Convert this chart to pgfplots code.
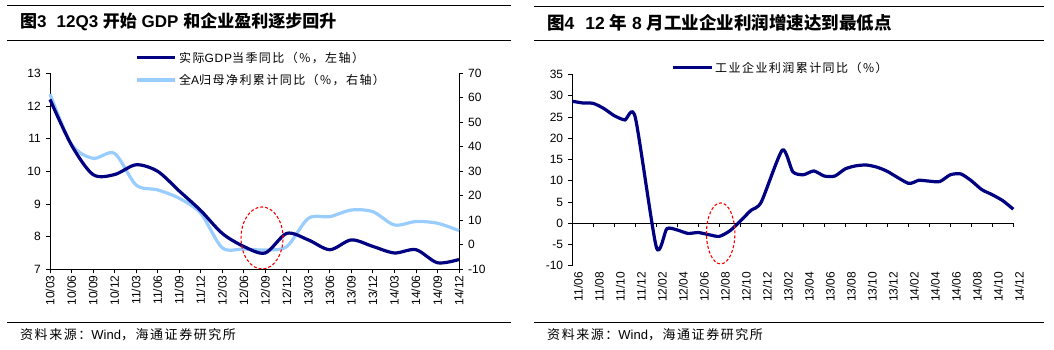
\documentclass[border=0pt]{standalone}
\usepackage{pgfplots}
\pgfplotsset{compat=1.18}
\usepackage{fontspec}
\setmainfont{Liberation Sans}
\newfontfamily\cjk{Noto Sans CJK SC}
\newfontfamily\cjkl[LetterSpace=12]{Noto Sans CJK SC}
\newfontfamily\latl[LetterSpace=6]{Liberation Sans}
\definecolor{navy}{RGB}{0,0,128}
\definecolor{lblue}{RGB}{153,204,255}
\pgfplotstableread{
x y
0 12.2
1 10.8
2 9.9
3 9.9
4 10.2
5 10.0
6 9.4
7 8.8
8 8.1
9 7.7
10 7.5
11 8.1
12 7.9
13 7.6
14 7.9
15 7.7
16 7.5
17 7.6
18 7.2
19 7.3
}\gdp
\pgfplotstableread{
x y
0 61.5
1 41
2 35.3
3 37.3
4 24.4
5 22.4
6 19
7 12.9
8 -1.2
9 -1.7
10 -2.1
11 -0.7
12 10.8
13 11.5
14 14.2
15 13.5
16 8.1
17 9.5
18 8.8
19 5.8
}\profit
\pgfplotstableread{
x y
0 28.7
1 28.3
2 28.2
3 27.0
4 25.3
5 24.3
6 24.9
8 -5.6
9 -1.3
10 -1.6
11 -2.4
12 -2.2
13 -2.7
14 -3.1
15 -1.8
16 0.5
17 3.0
18 5.0
20 17.2
21 12.1
22 11.4
23 12.3
24 11.1
25 11.1
26 12.8
27 13.5
28 13.7
29 13.2
30 12.2
32 9.4
33 10.1
34 9.9
35 9.8
36 11.4
37 11.6
38 10.0
39 7.9
40 6.7
41 5.3
42 3.3
}\ind
\begin{document}
\begin{tikzpicture}[x=1pt,y=1pt]
\pgfplotsset{
  every axis/.append style={
    scale only axis,
    font=\fontsize{12}{14}\selectfont,
    /pgf/number format/assume math mode=true,
    axis line style={black, line width=0.8pt},
    tick style={black, line width=0.8pt},
    major tick length=4pt,
    tick align=outside,
    clip=false,
  },
}
% ---------- left panel ----------
\begin{axis}[
  at={(50pt,80.7pt)}, anchor=south west,
  width=409pt, height=196pt,
  xmin=0, xmax=19, ymin=7, ymax=13,
  axis x line*=bottom, axis y line*=left,
  xtick={0,...,19},
  xticklabels={10/03,10/06,10/09,10/12,11/03,11/06,11/09,11/12,12/03,12/06,12/09,12/12,13/03,13/06,13/09,13/12,14/03,14/06,14/09,14/12},
  xticklabel style={rotate=90, anchor=east, inner sep=2pt},
  ytick={7,...,13},
  yticklabel style={inner sep=5pt},
]
\addplot[lblue, line width=3.2pt, smooth, tension=0.5, opacity=0] table[x=x,y=y]{\gdp};
\end{axis}
\begin{axis}[
  at={(50pt,80.7pt)}, anchor=south west,
  width=409pt, height=196pt,
  xmin=0, xmax=19, ymin=-10, ymax=70,
  axis y line*=right, axis x line=none,
  ytick={-10,0,...,70},
  yticklabel style={inner sep=5pt},
]
\addplot[lblue, line width=3.2pt, smooth, tension=0.5] table[x=x,y=y]{\profit};
\end{axis}
\begin{axis}[
  at={(50pt,80.7pt)}, anchor=south west,
  width=409pt, height=196pt,
  xmin=0, xmax=19, ymin=7, ymax=13,
  hide axis,
]
\addplot[navy, line width=3.2pt, smooth, tension=0.5] table[x=x,y=y]{\gdp};
\draw[red, line width=1.1pt, dash pattern=on 3pt off 2pt] (axis cs:9.85,7.96) ellipse [x radius=21pt, y radius=31pt];
\end{axis}
% legend left
\draw[navy, line width=3.2pt] (137,292.3) -- (175,292.3);
\node[anchor=west, inner sep=0pt, font=\fontsize{12}{14}\selectfont] at (179,292.3) {\cjkl 实际{\latl GDP}当季同比（\%，左轴）};
\draw[lblue, line width=3.2pt] (137,270) -- (175,270);
\node[anchor=west, inner sep=0pt, font=\fontsize{12}{14}\selectfont] at (179,270) {\cjkl 全{\latl A}归母净利累计同比（\%，右轴）};
% ---------- right panel ----------
\begin{axis}[
  at={(572.3pt,84.3pt)}, anchor=south west,
  width=441pt, height=191.2pt,
  xmin=0, xmax=42, ymin=-10, ymax=35,
  axis y line*=left, axis x line*=bottom,
  x axis line style={draw=none},
  xtick={0,2,...,42},
  xtick style={draw=none},
  xticklabels={11/06,11/08,11/10,11/12,12/02,12/04,12/06,12/08,12/10,12/12,13/02,13/04,13/06,13/08,13/10,13/12,14/02,14/04,14/06,14/08,14/10,14/12},
  xticklabel style={rotate=90, anchor=east, inner sep=2pt, yshift=-6pt},
  ytick={-10,-5,...,35},
  yticklabel style={inner sep=5pt},
]
\draw[black, line width=0.8pt] (axis cs:0,0) -- (axis cs:42,0);
\pgfplotsinvokeforeach{0,2,...,42}{\draw[black, line width=0.8pt] (axis cs:#1,0) -- ([yshift=-4pt]axis cs:#1,0);}
\addplot[navy, line width=3.2pt, smooth, tension=0.4] table[x=x,y=y]{\ind};
\draw[red, line width=1.1pt, dash pattern=on 3pt off 2pt] (axis cs:14.13,-2.4) ellipse [x radius=14.2pt, y radius=30.5pt];
\end{axis}
\draw[navy, line width=3.2pt] (673,282.3) -- (712,282.3);
\node[anchor=west, inner sep=0pt, font=\fontsize{12}{14}\selectfont] at (715,282.3) {\cjkl 工业企业利润累计同比（\%）};
% ---------- titles, rules, sources ----------
\draw[black, line width=0.8pt] (7,345) -- (511,345);
\draw[black, line width=0.8pt] (7,310) -- (511,310);
\draw[black, line width=0.8pt] (7,27.3) -- (511,27.3);
\draw[black, line width=0.8pt] (534,344) -- (1044,344);
\draw[black, line width=0.8pt] (534,310) -- (1044,310);
\draw[black, line width=0.8pt] (534,27.3) -- (1044,27.3);
\node[anchor=west, inner sep=0pt, font=\fontsize{17}{20}\selectfont\bfseries] at (20,328) {{\cjk\bfseries 图}3\hspace{10pt}12Q3 {\cjk\bfseries 开始} GDP {\cjk\bfseries 和企业盈利逐步回升}};
\node[anchor=west, inner sep=0pt, font=\fontsize{17.5}{20}\selectfont\bfseries] at (547,327) {{\cjk\bfseries 图}4\hspace{11pt}12 {\cjk\bfseries 年} 8 {\cjk\bfseries 月工业企业利润增速达到最低点}};
\node[anchor=west, inner sep=0pt, font=\fontsize{13}{15}\selectfont] at (20,15) {{\cjkl 资料来源：}Wind{\cjkl ，海通证券研究所}};
\node[anchor=west, inner sep=0pt, font=\fontsize{13}{15}\selectfont] at (547,15) {{\cjkl 资料来源：}Wind{\cjkl ，海通证券研究所}};
\pgfresetboundingbox
\path[use as bounding box] (0,0) rectangle (1054,350);
\end{tikzpicture}
\end{document}
